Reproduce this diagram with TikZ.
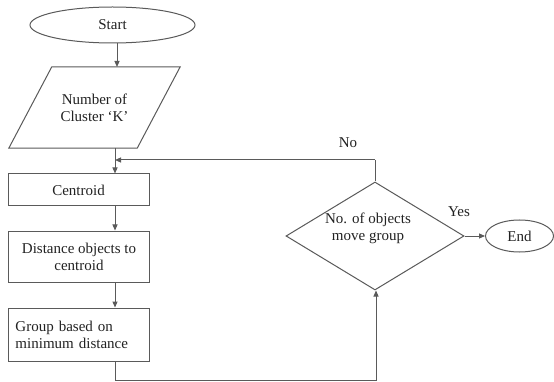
\documentclass[tikz,border=0pt]{standalone}
\usepackage{fontspec}
\setmainfont{Liberation Serif}
\usetikzlibrary{shapes.geometric,arrows.meta,calc}
\definecolor{linec}{HTML}{5A5A5A}
\definecolor{textc}{HTML}{222222}
\begin{document}
\begin{tikzpicture}[x=1pt,y=-1pt,
  every node/.style={font=\fontsize{15}{17}\selectfont, text=textc},
  shp/.style={draw=linec, line width=1pt},
  procbox/.style={shp, rectangle, minimum width=141pt, inner sep=0pt, align=center},
  termin/.style={shp, ellipse, inner sep=0pt},
  conn/.style={draw=linec, line width=1pt},
  arr/.style={conn, -{Triangle[length=6pt,width=5pt]}},
  lbl/.style={inner sep=1pt}]
\useasboundingbox (0,0) rectangle (554,382);
\fill[white] (0,0) rectangle (554,382);

% Start
\node[termin, minimum width=165pt, minimum height=36pt] (start) at (112.5,25) {Start};

% input parallelogram
\node[inner sep=0pt, minimum width=128pt, minimum height=81pt, align=center] (inp) at (94.5,107.5) {Number of\\Cluster `K'};
\draw[shp] ($(inp.north west)+(21.5,0)$) -- ($(inp.north east)+(21.5,0)$)
  -- ($(inp.south east)+(-21.5,0)$) -- ($(inp.south west)+(-21.5,0)$) -- cycle;

% process boxes
\node[procbox, minimum height=32pt] (cen) at (78.5,190) {Centroid};
\node[procbox, minimum height=51pt] (dist) at (79,256.5) {Distance objects to\\centroid};
\node[procbox, minimum height=53pt, align=left, text width=127pt] (grp) at (79,334.5) {Group based on\\minimum distance};

% decision
\node[shp, diamond, minimum width=178pt, minimum height=108pt, aspect=1.65, inner sep=0pt] (dec) at (375,236) {};
\node[align=center, inner sep=0pt] (dtext) at (368,228) {No. of objects\\move group};

% End
\node[termin, minimum width=68pt, minimum height=32pt] (end) at (519.5,236) {End};

% coordinates
\coordinate (j1) at (115,160);
\coordinate (noc) at (375,160);
\coordinate (b1) at (115,380.5);
\coordinate (b2) at (376,380.5);

% connectors
\draw[arr] (start.south -| 117,0) -- (117,67);
\draw[arr] (115,148) -- (cen.north -| j1);
\draw[arr] (cen.south -| j1) -- (dist.north -| j1);
\draw[arr] (dist.south -| j1) -- (grp.north -| j1);
\draw[conn] (grp.south -| j1) -- (b1) -- (b2);
\draw[arr] (b2) -- (dec.south -| b2);
\draw[conn] (dec.north) -- (noc);
\draw[arr] (noc) -- (j1);
\draw[arr] (dec.east) -- (end.west);

% labels
\node[lbl] (nolbl) at (348,143) {No};
\node[lbl] (yeslbl) at (459,212) {Yes};
\end{tikzpicture}
\end{document}
